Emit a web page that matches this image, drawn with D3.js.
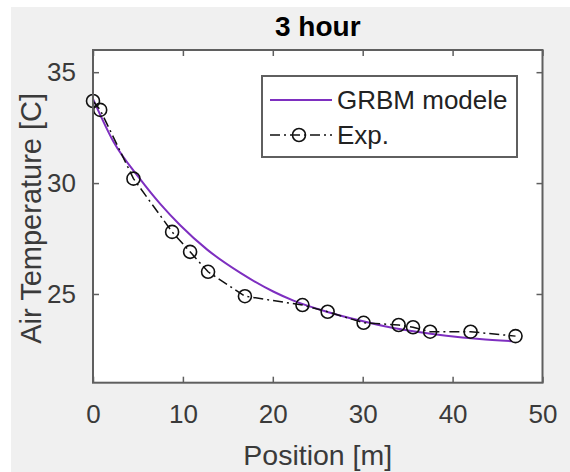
<!DOCTYPE html>
<html>
<head>
<meta charset="utf-8">
<script src="https://cdn.jsdelivr.net/npm/d3@7"></script>
<style>
  html, body { margin: 0; padding: 0; background: #ffffff; }
  svg { display: block; }
  text { font-family: "Liberation Sans", Arial, Helvetica, sans-serif; }
</style>
</head>
<body>
<svg id="chart" width="570" height="472"></svg>
<script>
// Measured air temperature along the position [m]
const expPosition = [0, 0.8, 4.5, 8.8, 10.8, 12.8, 16.9, 23.3, 26.1, 30.1, 34.0, 35.6, 37.5, 42.0, 47.0];
const expTemp     = [33.7, 33.3, 30.2, 27.8, 26.9, 26.0, 24.9, 24.5, 24.2, 23.7, 23.6, 23.5, 23.3, 23.3, 23.1];

// GRBM model prediction
const modelPosition = [0, 2.3, 5.2, 7.5, 9.7, 12.7, 16.4, 20.1, 22.3, 26.0, 29.7, 33.0, 36.0, 39.3, 43.0, 46.6];
const modelTemp     = [33.8, 31.85, 30.2, 29.05, 28.1, 27.0, 25.95, 25.1, 24.7, 24.2, 23.8, 23.5, 23.3, 23.12, 22.97, 22.87];

const xTicks = [0, 10, 20, 30, 40, 50];
const yTicks = [25, 30, 35];
const xDomain = [0, 50];
const yDomain = [21, 36];

const titleText = "3 hour";
const xLabelText = "Position [m]";
const yLabelText = "Air Temperature [C]";
const legendLabels = ["GRBM modele", "Exp."];

const svg = d3.select("#chart");
const W = 570, H = 472;
const plot = { left: 93, right: 542.5, top: 50, bottom: 382.7 };
const axisColor = "#5f5f5f";
const modelColor = "#7e2fc0";

// figure background
svg.append("rect").attr("x", 11).attr("y", 7).attr("width", W - 11).attr("height", H - 7)
  .attr("fill", "#f0f0f0");

const x = d3.scaleLinear().domain(xDomain).range([plot.left, plot.right]);
const y = d3.scaleLinear().domain(yDomain).range([plot.bottom, plot.top]);

// axes area
svg.append("rect")
  .attr("x", plot.left).attr("y", plot.top)
  .attr("width", plot.right - plot.left).attr("height", plot.bottom - plot.top)
  .attr("fill", "#ffffff");

svg.append("clipPath").attr("id", "plotClip").append("rect")
  .attr("x", plot.left).attr("y", plot.top)
  .attr("width", plot.right - plot.left).attr("height", plot.bottom - plot.top);

const g = svg.append("g").attr("clip-path", "url(#plotClip)");

// model curve
const modelData = modelPosition.map((p, i) => [p, modelTemp[i]]);
g.append("path")
  .datum(modelData)
  .attr("fill", "none")
  .attr("stroke", modelColor)
  .attr("stroke-width", 2)
  .attr("d", d3.line().x(d => x(d[0])).y(d => y(d[1])).curve(d3.curveMonotoneX));

// experimental data: dash-dot line with open circles
const expData = expPosition.map((p, i) => [p, expTemp[i]]);
g.append("path")
  .datum(expData)
  .attr("fill", "none")
  .attr("stroke", "#111")
  .attr("stroke-width", 1.5)
  .attr("stroke-dasharray", "10,4,2,4")
  .attr("d", d3.line().x(d => x(d[0])).y(d => y(d[1])));

svg.append("g").selectAll("circle")
  .data(expData)
  .join("circle")
  .attr("cx", d => x(d[0]))
  .attr("cy", d => y(d[1]))
  .attr("r", 6.5)
  .attr("fill", "none")
  .attr("stroke", "#111")
  .attr("stroke-width", 1.6);

// axes with inward ticks on all four sides
const tickLen = 6;
const bottomAxis = d3.axisBottom(x).tickValues(xTicks).tickSize(-tickLen).tickPadding(tickLen + 16).tickFormat(d3.format("d"));
const topAxis = d3.axisTop(x).tickValues(xTicks).tickSize(-tickLen).tickFormat("");
const leftAxis = d3.axisLeft(y).tickValues(yTicks).tickSize(-tickLen).tickPadding(tickLen + 11).tickFormat(d3.format("d"));
const rightAxis = d3.axisRight(y).tickValues(yTicks).tickSize(-tickLen).tickFormat("");

function styleAxis(sel) {
  sel.select(".domain").remove();
  sel.selectAll(".tick line").attr("stroke", axisColor).attr("stroke-width", 1.5);
  sel.selectAll(".tick text").attr("fill", "#3a3a3a").style("font-size", "26px");
}

svg.append("g").attr("transform", `translate(0,${plot.bottom})`).call(bottomAxis).call(styleAxis)
  .selectAll(".tick text").attr("dy", "0.71em");
svg.append("g").attr("transform", `translate(0,${plot.top})`).call(topAxis).call(styleAxis);
svg.append("g").attr("transform", `translate(${plot.left},0)`).call(leftAxis).call(styleAxis);
svg.append("g").attr("transform", `translate(${plot.right},0)`).call(rightAxis).call(styleAxis);

// axes box
svg.append("rect")
  .attr("x", plot.left).attr("y", plot.top)
  .attr("width", plot.right - plot.left).attr("height", plot.bottom - plot.top)
  .attr("fill", "none").attr("stroke", axisColor).attr("stroke-width", 2);

// title and axis labels
svg.append("text")
  .attr("x", (plot.left + plot.right) / 2).attr("y", 36)
  .attr("text-anchor", "middle")
  .style("font-size", "28px").style("font-weight", "bold")
  .attr("fill", "#000")
  .text(titleText);

svg.append("text")
  .attr("x", (plot.left + plot.right) / 2).attr("y", 465)
  .attr("text-anchor", "middle")
  .style("font-size", "28.5px")
  .attr("fill", "#3a3a3a")
  .text(xLabelText);

svg.append("text")
  .attr("transform", `translate(41,${(plot.top + plot.bottom) / 2 + 2}) rotate(-90)`)
  .attr("text-anchor", "middle")
  .style("font-size", "29px")
  .attr("fill", "#3a3a3a")
  .text(yLabelText);

// legend
const leg = svg.append("g");
leg.append("rect")
  .attr("x", 262).attr("y", 76).attr("width", 255).attr("height", 81)
  .attr("fill", "#ffffff").attr("stroke", axisColor).attr("stroke-width", 2);

const rowY = [100, 135];
leg.append("line")
  .attr("x1", 270).attr("x2", 332).attr("y1", rowY[0]).attr("y2", rowY[0])
  .attr("stroke", modelColor).attr("stroke-width", 2);
leg.append("line")
  .attr("x1", 270).attr("x2", 332).attr("y1", rowY[1]).attr("y2", rowY[1])
  .attr("stroke", "#111").attr("stroke-width", 1.5).attr("stroke-dasharray", "10,4,2,4");
leg.append("circle")
  .attr("cx", 299).attr("cy", rowY[1]).attr("r", 6.5)
  .attr("fill", "none").attr("stroke", "#111").attr("stroke-width", 1.6);

leg.selectAll("text.lab")
  .data(legendLabels)
  .join("text")
  .attr("class", "lab")
  .attr("x", 337)
  .attr("y", (d, i) => rowY[i])
  .attr("dy", "0.36em")
  .style("font-size", "26px")
  .attr("fill", "#222")
  .text(d => d);
</script>
</body>
</html>
